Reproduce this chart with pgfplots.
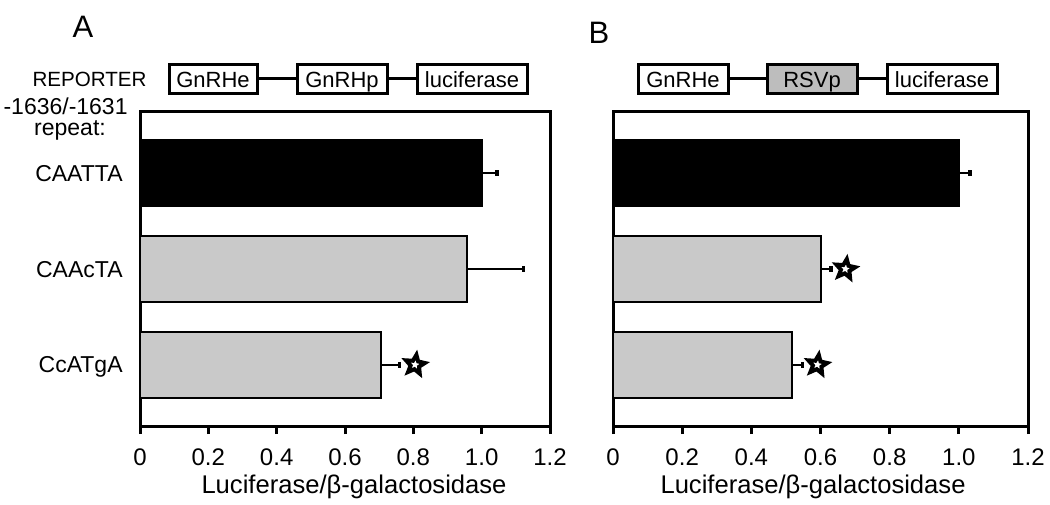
\documentclass[border=0pt]{standalone}
\usepackage{fontspec}
\setmainfont{Liberation Sans}
\usepackage{pgfplots}
\pgfplotsset{compat=1.18}

\definecolor{barfill}{HTML}{C9C9C9}
\definecolor{boxfill}{HTML}{BDBDBD}

% hollow five-pointed star for the significance marks
\pgfdeclareplotmark{ostar}{%
  \pgfpathmoveto{\pgfpointpolar{90}{\pgfplotmarksize}}%
  \pgfpathlineto{\pgfpointpolar{126}{0.45\pgfplotmarksize}}%
  \pgfpathlineto{\pgfpointpolar{162}{\pgfplotmarksize}}%
  \pgfpathlineto{\pgfpointpolar{198}{0.45\pgfplotmarksize}}%
  \pgfpathlineto{\pgfpointpolar{234}{\pgfplotmarksize}}%
  \pgfpathlineto{\pgfpointpolar{270}{0.45\pgfplotmarksize}}%
  \pgfpathlineto{\pgfpointpolar{306}{\pgfplotmarksize}}%
  \pgfpathlineto{\pgfpointpolar{342}{0.45\pgfplotmarksize}}%
  \pgfpathlineto{\pgfpointpolar{18}{\pgfplotmarksize}}%
  \pgfpathlineto{\pgfpointpolar{54}{0.45\pgfplotmarksize}}%
  \pgfpathclose
  \pgfusepathqfillstroke
}

\pgfplotsset{
  panel/.style={
    scale only axis, height=157.5pt,
    xmin=0, xmax=1.2, ymin=0.35, ymax=3.64, y dir=reverse,
    axis line style={line width=1.5pt},
    xtick={0,0.2,0.4,0.6,0.8,1.0,1.2},
    xticklabels={0,0.2,0.4,0.6,0.8,1.0,1.2},
    xtick align=outside, xtick pos=left,
    major tick length=4pt,
    xtick style={line width=1.5pt, black},
    xticklabel style={font=\fontsize{12}{14}\selectfont, anchor=base, yshift=-15.5pt},
    /pgf/number format/assume math mode=true,
    label style={font=\fontsize{12.8}{15}\selectfont},
    bar width=0.69, bar shift=0pt,
    clip=false,
  },
  errx/.style={error bars/.cd, x dir=plus, x explicit,
    error mark=|,
    error bar style={line width=1.2pt},
    error mark options={line width=1.8pt, mark size=1.4pt}},
  bbar/.style={xbar, fill=black, draw=black, line width=1pt, errx},
  gbar/.style={xbar, fill=barfill, draw=black, line width=1pt, errx},
  sig/.style={only marks, mark=ostar, mark size=5pt,
    mark options={fill=white, draw=black, line width=2pt, rotate=-8}},
}

\begin{document}
\begin{tikzpicture}
\path[use as bounding box] (0,0) rectangle (525pt,-252pt);

% panel A
\begin{axis}[panel, at={(70pt,-55.5pt)}, anchor=north west, width=205pt,
  ytick={1,2,3}, yticklabels={CAATTA,CAAcTA,CcATgA},
  ytick style={draw=none},
  yticklabel style={font=\fontsize{11.5}{14}\selectfont, anchor=base east,
    inner sep=0pt, xshift=-8.5pt, yshift=-4.1pt},
  xlabel={Luciferase/β-galactosidase},
  xlabel style={at={(axis description cs:0.522,-0.213)}, anchor=base},
]
\addplot[bbar] coordinates {(1.0,1) +- (0.045,0)};
\addplot[gbar] coordinates {(0.956,2) +- (0.167,0)};
\addplot[gbar] coordinates {(0.705,3) +- (0.055,0)};
\addplot[sig] coordinates {(0.805,3)};
\end{axis}

% panel B
\begin{axis}[panel, at={(306.5pt,-55.5pt)}, anchor=north west, width=207.5pt,
  ytick=\empty,
  xlabel={Luciferase/β-galactosidase},
  xlabel style={at={(axis description cs:0.482,-0.213)}, anchor=base},
]
\addplot[bbar] coordinates {(1.0,1) +- (0.032,0)};
\addplot[gbar] coordinates {(0.600,2) +- (0.030,0)};
\addplot[gbar] coordinates {(0.519,3) +- (0.029,0)};
\addplot[sig] coordinates {(0.672,2) (0.591,3)};
\end{axis}

% labels and reporter constructs, positions in pixels of the reference
\begin{scope}[x=0.5pt, y=-0.5pt, inner sep=0pt]
\node[anchor=base, font=\fontsize{15.5}{18}\selectfont] at (83,37) {A};
\node[anchor=base, font=\fontsize{15.5}{18}\selectfont] at (599,43) {B};
\node[anchor=base east, font=\fontsize{10.3}{12}\selectfont] at (147,86) {REPORTER};
\node[anchor=base east, font=\fontsize{11.5}{14}\selectfont] at (128,114) {-1636/-1631};
\node[anchor=base, font=\fontsize{11.5}{14}\selectfont] at (70,135) {repeat:};

\begin{scope}[font=\fontsize{11}{13}\selectfont]
\draw[line width=1.2pt] (257,78.5) -- (297,78.5) (387,78.5) -- (417,78.5);
\draw[line width=1.5pt, fill=white] (169,64) rectangle (257,93);
\draw[line width=1.5pt, fill=white] (297,64) rectangle (387,93);
\draw[line width=1.5pt, fill=white] (417,64) rectangle (527,93);
\node[anchor=base] at (213,87) {GnRHe};
\node[anchor=base] at (342,87) {GnRHp};
\node[anchor=base] at (472,87) {luciferase};

\draw[line width=1.2pt] (728,78.5) -- (767,78.5) (857,78.5) -- (887,78.5);
\draw[line width=1.5pt, fill=white] (638,64) rectangle (728,93);
\draw[line width=1.5pt, fill=boxfill] (767,64) rectangle (857,93);
\draw[line width=1.5pt, fill=white] (887,64) rectangle (997,93);
\node[anchor=base] at (683,87) {GnRHe};
\node[anchor=base] at (812,87) {RSVp};
\node[anchor=base] at (942,87) {luciferase};
\end{scope}
\end{scope}
\end{tikzpicture}
\end{document}
